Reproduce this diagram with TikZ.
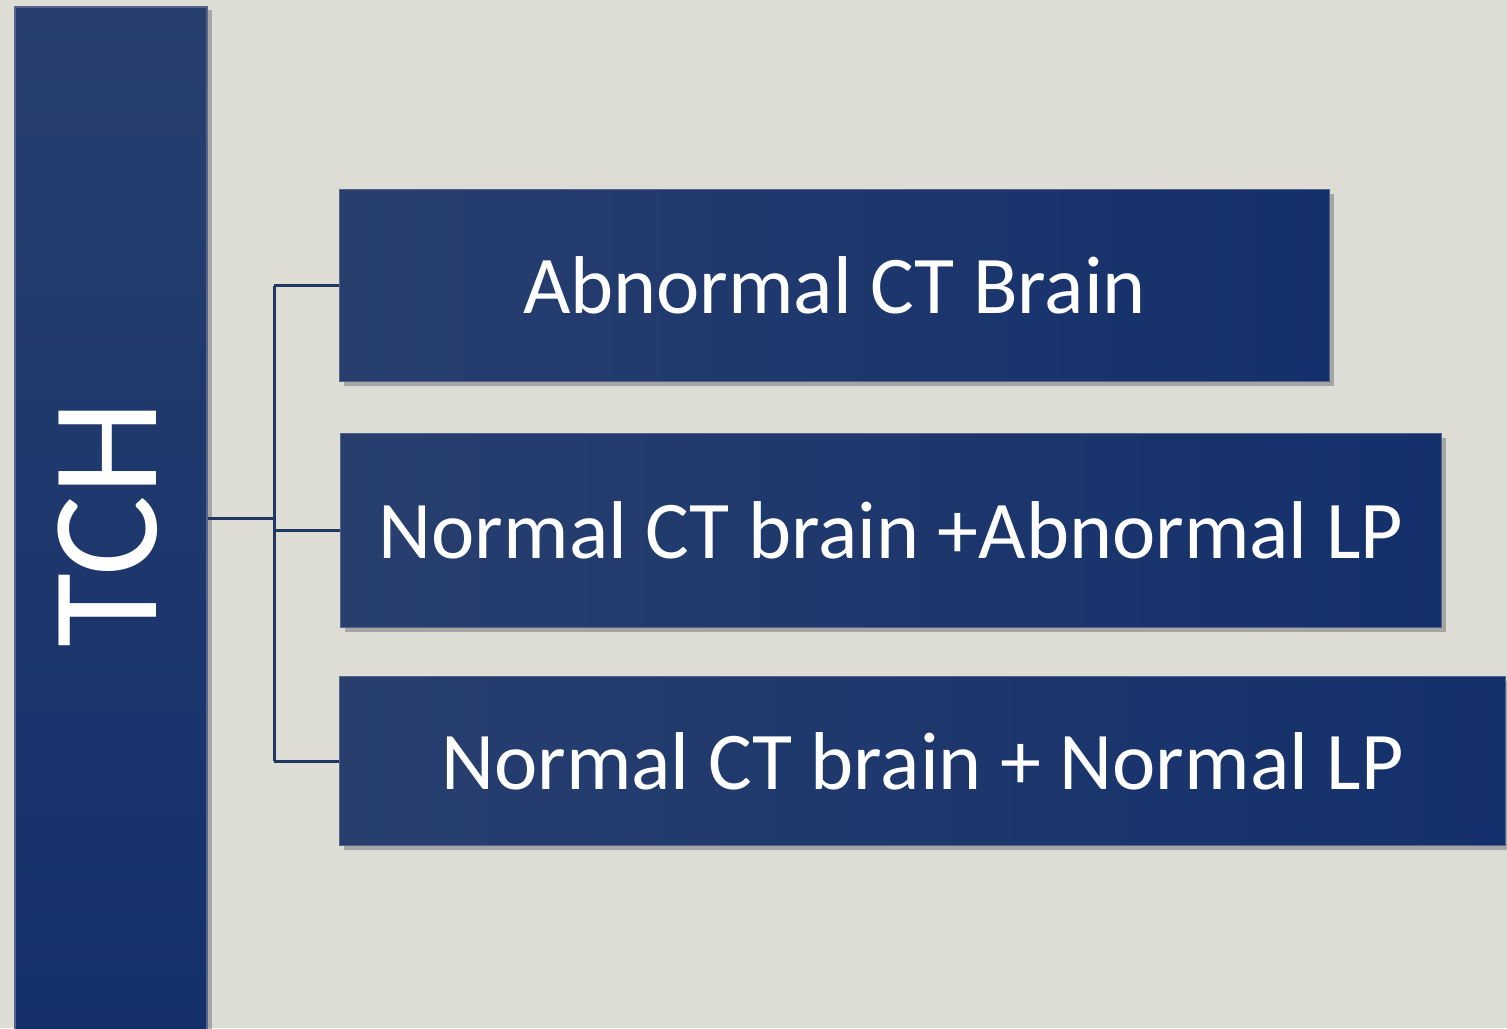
\documentclass[tikz,border=0pt]{standalone}
\usepackage{fontspec}
\setmainfont{Carlito}
\usetikzlibrary{shadows}
\definecolor{bgpaper}{HTML}{DDDDD5}
\definecolor{navytop}{HTML}{283F6E}
\definecolor{navymid}{HTML}{1C3A7A}
\definecolor{navydark}{HTML}{14306C}
\definecolor{navyedge}{HTML}{53658F}
\definecolor{linknavy}{HTML}{1F3763}

\tikzset{
  stem/.style={draw=navyedge, line width=1.5pt, top color=navytop, bottom color=navydark,
    drop shadow={shadow xshift=5pt, shadow yshift=-3pt, opacity=0.6}},
  branch/.style={draw=navyedge, line width=1pt, left color=navytop, middle color=navymid, right color=navydark,
    drop shadow={shadow xshift=4pt, shadow yshift=-4pt, opacity=0.6},
    anchor=north west, inner sep=0pt, text=white, font=\fontsize{82}{90}\selectfont},
  link/.style={linknavy, line width=3pt}
}

\begin{document}
\begin{tikzpicture}[x=1pt, y=-1pt]
\fill[bgpaper] (0,0) rectangle (1507,1028);
\useasboundingbox (0,0) rectangle (1507,1028);
\clip (0,0) rectangle (1507,1028);

\node[stem, minimum width=192pt, minimum height=1040pt, inner sep=0pt] (tch) at (111,527) {};
\node[rotate=90, text=white, font=\fontsize{152}{160}\selectfont] (tchlabel) at (108,524) {TCH};

\node[branch, minimum width=990pt, minimum height=192pt] (abn) at (339,189) {Abnormal CT Brain};
\node[branch, minimum width=1101pt, minimum height=194pt] (nrmab) at (340,433) {Normal CT brain +Abnormal LP};
\node[branch, minimum width=1166pt, minimum height=169pt] (nrm) at (339,676) {Normal CT brain + Normal LP};

\coordinate (split) at (274,518);

\draw[link] (tch.east |- split) -- (split);
\draw[link] (split |- abn.west) -- (split |- nrm.west);
\draw[link] (split |- abn.west) -- (abn.west);
\draw[link] (split |- nrmab.west) -- (nrmab.west);
\draw[link] (split |- nrm.west) -- (nrm.west);

\end{tikzpicture}
\end{document}
